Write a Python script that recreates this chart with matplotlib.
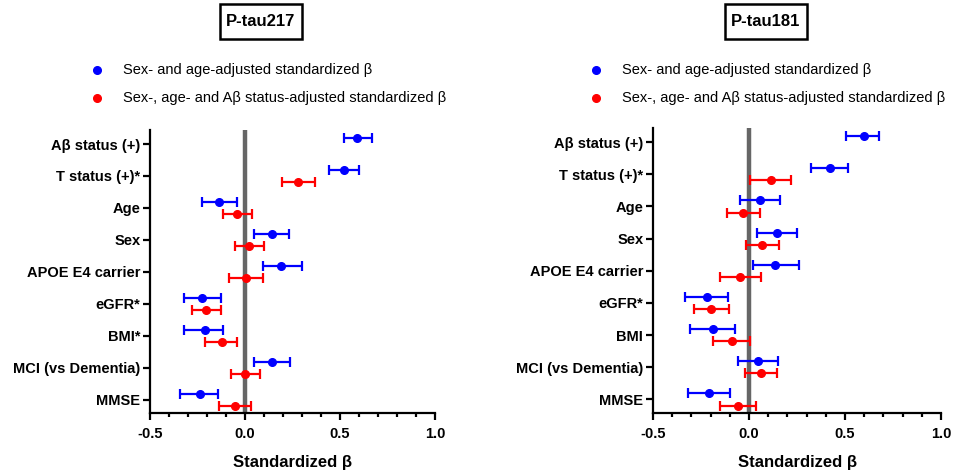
import numpy as np
import matplotlib
matplotlib.use("Agg")
import matplotlib.pyplot as plt
from matplotlib.lines import Line2D
from matplotlib.patches import Rectangle

plt.rcParams['font.family'] = ['Liberation Sans', 'DejaVu Sans']

categories = ["Aβ status (+)", "T status (+)*", "Age", "Sex", "APOE E4 carrier",
              "eGFR*", "BMI*", "MCI (vs Dementia)", "MMSE"]
categories_181 = ["Aβ status (+)", "T status (+)*", "Age", "Sex", "APOE E4 carrier",
                  "eGFR*", "BMI", "MCI (vs Dementia)", "MMSE"]

# P-tau217
t217_blue = [0.59, 0.52, -0.135, 0.14, 0.19, -0.226, -0.209, 0.14, -0.237]
t217_blue_lo = [0.52, 0.44, -0.226, 0.049, 0.096, -0.321, -0.321, 0.049, -0.344]
t217_blue_hi = [0.67, 0.60, -0.044, 0.233, 0.298, -0.128, -0.116, 0.235, -0.140]
t217_red = [np.nan, 0.281, -0.040, 0.021, 0.005, -0.204, -0.121, 0.002, -0.053]
t217_red_lo = [np.nan, 0.193, -0.114, -0.051, -0.086, -0.277, -0.209, -0.072, -0.138]
t217_red_hi = [np.nan, 0.368, 0.039, 0.098, 0.096, -0.125, -0.040, 0.077, 0.030]

# P-tau181
t181_blue = [0.597, 0.420, 0.057, 0.145, 0.138, -0.219, -0.186, 0.049, -0.210]
t181_blue_lo = [0.505, 0.324, -0.047, 0.040, 0.021, -0.332, -0.308, -0.057, -0.318]
t181_blue_hi = [0.675, 0.517, 0.160, 0.251, 0.261, -0.108, -0.073, 0.153, -0.097]
t181_red = [np.nan, 0.115, -0.031, 0.070, -0.045, -0.198, -0.089, 0.065, -0.057]
t181_red_lo = [np.nan, 0.007, -0.115, -0.017, -0.153, -0.287, -0.188, -0.021, -0.153]
t181_red_hi = [np.nan, 0.221, 0.056, 0.155, 0.061, -0.106, 0.004, 0.146, 0.038]

titles = ["P-tau217", "P-tau181"]
legend_labels = ["Sex- and age-adjusted standardized β",
                 "Sex-, age- and Aβ status-adjusted standardized β"]
xlabel = "Standardized β"
xticks = [-0.5, 0.0, 0.5, 1.0]
xticklabels = ["-0.5", "0.0", "0.5", "1.0"]

BLUE = "#0000FF"
RED = "#FF0000"

W, H = 969, 471
fig = plt.figure(figsize=(W / 100, H / 100), dpi=100)

panels = [
    dict(rect=[150 / W, 58 / H, 285 / W, 283 / H], cats=categories,
         b=t217_blue, blo=t217_blue_lo, bhi=t217_blue_hi,
         r=t217_red, rlo=t217_red_lo, rhi=t217_red_hi,
         title=titles[0], tx=261, legx=97),
    dict(rect=[653 / W, 58 / H, 288 / W, 285 / H], cats=categories_181,
         b=t181_blue, blo=t181_blue_lo, bhi=t181_blue_hi,
         r=t181_red, rlo=t181_red_lo, rhi=t181_red_hi,
         title=titles[1], tx=766, legx=596),
]

off = 0.19
for p in panels:
    ax = fig.add_axes(p['rect'])
    y = np.arange(len(p['cats']))
    b = np.array(p['b']); blo = np.array(p['blo']); bhi = np.array(p['bhi'])
    r = np.array(p['r']); rlo = np.array(p['rlo']); rhi = np.array(p['rhi'])
    ax.axvline(0, color="#666666", lw=3.2, zorder=1)
    ax.errorbar(b, y - off, xerr=[b - blo, bhi - b], fmt='o', color=BLUE,
                ms=5.5, elinewidth=1.6, capsize=3.3, capthick=1.6, zorder=3)
    m = ~np.isnan(r)
    ax.errorbar(r[m], y[m] + off, xerr=[r[m] - rlo[m], rhi[m] - r[m]], fmt='o', color=RED,
                ms=5.5, elinewidth=1.6, capsize=3.3, capthick=1.6, zorder=3)
    ax.set_xlim(-0.5, 1.0)
    ax.set_ylim(8.42, -0.44)
    ax.set_yticks(y)
    ax.set_yticklabels(p['cats'], fontweight='bold', fontsize=10.5)
    ax.set_xticks(xticks)
    ax.set_xticklabels(xticklabels, fontweight='bold', fontsize=10.5)
    ax.set_xticks(np.arange(-0.5, 1.001, 0.1), minor=True)
    ax.set_xlabel(xlabel, fontweight='bold', fontsize=12, labelpad=10)
    for s in ['top', 'right']:
        ax.spines[s].set_visible(False)
    for s in ['left', 'bottom']:
        ax.spines[s].set_linewidth(1.6)
    ax.tick_params(axis='y', which='major', length=5, width=1.6, pad=2)
    ax.tick_params(axis='x', which='major', length=5, width=1.6, pad=5)
    ax.tick_params(axis='x', which='minor', length=3, width=1.6)
    ax.tick_params(axis='y', which='minor', left=False)

    # title box
    tx = p['tx']
    fig.add_artist(Rectangle(((tx - 41) / W, (H - 39) / H), 82 / W, 35 / H,
                             transform=fig.transFigure, fill=False, ec='black', lw=1.8))
    fig.text(tx / W, (H - 22) / H, p['title'], ha='center', va='center',
             fontweight='bold', fontsize=12)
    # legend
    for yy, col, lab in [(70, BLUE, legend_labels[0]), (98, RED, legend_labels[1])]:
        fig.add_artist(Line2D([p['legx'] / W], [(H - yy) / H], marker='o', color=col,
                              ms=5.5, transform=fig.transFigure, linestyle='none'))
        fig.text((p['legx'] + 26) / W, (H - yy) / H, lab, ha='left', va='center',
                 fontsize=10.5)

fig.savefig("out.png", dpi=100)
